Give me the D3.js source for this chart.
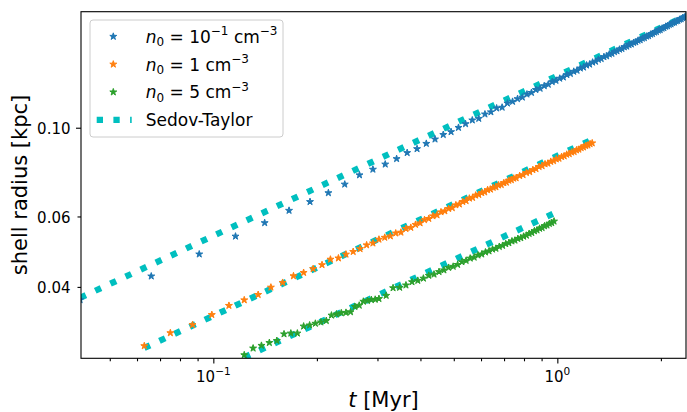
<!DOCTYPE html>
<html lang="en">
<head>
  <meta charset="UTF-8">
  <title>Shell radius vs time</title>
  <style>
    body { margin: 0; background: #fff; }
    svg text { font-family: 'DejaVu Sans', sans-serif; fill: #000; }
  </style>
</head>
<body>
  <div id="chart"></div>

  <script src="https://cdnjs.cloudflare.com/ajax/libs/d3/7.8.5/d3.min.js"></script>
  <script>
    // n0 = 0.1 cm^-3 : time [Myr] and shell radius [kpc]
    const blueT = [0.041, 0.066, 0.091, 0.116, 0.141, 0.166, 0.191, 0.216, 0.241, 0.266,
      0.291, 0.316, 0.341, 0.366, 0.391, 0.416, 0.441, 0.466, 0.491, 0.516,
      0.541, 0.566, 0.591, 0.616, 0.641, 0.666, 0.691, 0.716, 0.741, 0.766,
      0.791, 0.816, 0.841, 0.866, 0.891, 0.916, 0.941, 0.966, 0.991, 1.016,
      1.041, 1.066, 1.091, 1.116, 1.141, 1.166, 1.191, 1.216, 1.241, 1.266,
      1.291, 1.316, 1.341, 1.366, 1.391, 1.416, 1.441, 1.466, 1.491, 1.516,
      1.541, 1.566, 1.591, 1.616, 1.641, 1.666, 1.691, 1.716, 1.741, 1.766,
      1.791, 1.816, 1.841, 1.866, 1.891, 1.916, 1.941, 1.966, 1.991, 2.016,
      2.041, 2.066, 2.091, 2.116, 2.141, 2.166, 2.191, 2.216, 2.241, 2.266,
      2.291, 2.316, 2.341, 2.366];
    const blueR = [0.03714, 0.04254, 0.04829, 0.05352, 0.05783, 0.06209, 0.06530, 0.06871, 0.07220, 0.07616,
      0.07867, 0.08103, 0.08363, 0.08657, 0.08854, 0.09128, 0.09360, 0.09607, 0.09765, 0.10007,
      0.10222, 0.10444, 0.10541, 0.10810, 0.10946, 0.11191, 0.11241, 0.11513, 0.11626, 0.11808,
      0.11913, 0.12125, 0.12237, 0.12445, 0.12537, 0.12721, 0.12829, 0.13024, 0.13120, 0.13282,
      0.13373, 0.13563, 0.13650, 0.13822, 0.13905, 0.14083, 0.14162, 0.14329, 0.14405, 0.14571,
      0.14643, 0.14807, 0.14876, 0.15038, 0.15104, 0.15264, 0.15327, 0.15478, 0.15547, 0.15696,
      0.15762, 0.15910, 0.15974, 0.16120, 0.16173, 0.16318, 0.16378, 0.16522, 0.16580, 0.16722,
      0.16778, 0.16920, 0.16974, 0.17115, 0.17176, 0.17317, 0.17377, 0.17516, 0.17574, 0.17713,
      0.17770, 0.17908, 0.17964, 0.18101, 0.18155, 0.18282, 0.18345, 0.18471, 0.18522, 0.18647,
      0.18708, 0.18821, 0.18881, 0.18994];

    // n0 = 1 cm^-3
    const orangeT = [0.063, 0.075, 0.087, 0.099, 0.111, 0.123, 0.135, 0.147, 0.159, 0.171,
      0.183, 0.195, 0.207, 0.219, 0.231, 0.243, 0.255, 0.267, 0.279, 0.291,
      0.303, 0.315, 0.327, 0.339, 0.351, 0.363, 0.375, 0.387, 0.399, 0.411,
      0.423, 0.435, 0.447, 0.459, 0.471, 0.483, 0.495, 0.507, 0.519, 0.531,
      0.543, 0.555, 0.567, 0.579, 0.591, 0.603, 0.615, 0.627, 0.639, 0.651,
      0.663, 0.675, 0.687, 0.699, 0.711, 0.723, 0.735, 0.747, 0.759,
      0.777, 0.795, 0.813, 0.831, 0.849, 0.867, 0.885, 0.903, 0.921, 0.939,
      0.957, 0.975, 0.993, 1.011, 1.029, 1.047, 1.065, 1.083, 1.101, 1.119,
      1.137, 1.155, 1.173, 1.191, 1.209, 1.227, 1.245, 1.263];
    const orangeR = [0.02848, 0.03069, 0.03216, 0.03408, 0.03592, 0.03709, 0.03825, 0.03990, 0.04100, 0.04260,
      0.04342, 0.04439, 0.04541, 0.04687, 0.04720, 0.04825, 0.04899, 0.04979, 0.05090, 0.05144,
      0.05258, 0.05316, 0.05359, 0.05449, 0.05475, 0.05591, 0.05628, 0.05726, 0.05776, 0.05885,
      0.05926, 0.06014, 0.06048, 0.06155, 0.06190, 0.06274, 0.06304, 0.06408, 0.06439, 0.06532,
      0.06564, 0.06660, 0.06686, 0.06778, 0.06802, 0.06877, 0.06903, 0.06993, 0.07014, 0.07086,
      0.07106, 0.07186, 0.07203, 0.07278, 0.07299, 0.07382, 0.07405, 0.07470, 0.07488,
      0.07584, 0.07623, 0.07719, 0.07755, 0.07849, 0.07892, 0.07990, 0.08026, 0.08113, 0.08144,
      0.08229, 0.08262, 0.08347, 0.08378, 0.08462, 0.08491, 0.08575, 0.08603, 0.08684, 0.08710,
      0.08791, 0.08826, 0.08907, 0.08941, 0.09010, 0.09042, 0.09111, 0.09153];

    // n0 = 5 cm^-3
    const greenT = [0.123, 0.1305, 0.138, 0.1455, 0.153, 0.1605, 0.168, 0.1755, 0.183, 0.1905,
      0.198, 0.2055, 0.213, 0.2205, 0.228, 0.2355, 0.243, 0.2505, 0.258, 0.2655,
      0.273, 0.2805, 0.288, 0.2955, 0.303,
      0.318, 0.333, 0.348, 0.363, 0.378, 0.393, 0.408, 0.423, 0.438, 0.453,
      0.468, 0.483, 0.498, 0.513, 0.528, 0.543, 0.558, 0.573, 0.588, 0.603,
      0.618, 0.633, 0.648, 0.663, 0.678, 0.693, 0.708, 0.723, 0.738, 0.753,
      0.768, 0.783, 0.798, 0.813, 0.828, 0.843, 0.858, 0.873, 0.888, 0.903,
      0.918, 0.933, 0.948, 0.963, 0.978];
    const greenR = [0.02703, 0.02810, 0.02854, 0.02901, 0.02935, 0.03049, 0.03063, 0.03063, 0.03189, 0.03209,
      0.03241, 0.03265, 0.03293, 0.03397, 0.03419, 0.03442, 0.03451, 0.03463, 0.03570, 0.03596,
      0.03679, 0.03695, 0.03715, 0.03721, 0.03737,
      0.03806, 0.03976, 0.03986, 0.04040, 0.04116, 0.04149, 0.04202, 0.04271, 0.04301, 0.04364,
      0.04406, 0.04470, 0.04499, 0.04547, 0.04619, 0.04655, 0.04716, 0.04742, 0.04800, 0.04829,
      0.04885, 0.04915, 0.04967, 0.04990, 0.05043, 0.05073, 0.05125, 0.05151, 0.05205, 0.05229,
      0.05280, 0.05302, 0.05349, 0.05380, 0.05435, 0.05464, 0.05519, 0.05545, 0.05599, 0.05623,
      0.05680, 0.05704, 0.05757, 0.05783, 0.05836];

    // Sedov-Taylor lines (straight in log-log), end points
    const sedovBlueT = [0.041, 2.366];
    const sedovBlueR = [0.03757, 0.19027];
    const sedovOrangeT = [0.063, 1.263];
    const sedovOrangeR = [0.02815, 0.09340];
    const sedovGreenT = [0.123, 0.978];
    const sedovGreenR = [0.02666, 0.06111];

    // ticks and labels
    const xMajorTicks = [0.1, 1];
    const xTickExponents = ['\u22121', '0'];
    const xMinorTicks = [0.05, 0.06, 0.07, 0.08, 0.09, 0.2, 0.3, 0.4, 0.5, 0.6, 0.7, 0.8, 0.9, 2];
    const yMajorTicks = [0.1];
    const yMinorTicks = [0.04, 0.06];
    const legendDensity = ['10', '1', '5'];
    const legendDensityExp = ['\u22121', '', ''];

    const seriesColors = ['#1f77b4', '#ff7f0e', '#2ca02c'];
    const sedovColor = '#00bfbf';

    let width = 687, height = 412;
    let plot = { left: 81, right: 686, top: 11.7, bottom: 358.3 };

    let xScale = d3.scaleLog().domain([0.04124, 2.366]).range([plot.left, plot.right]);
    let yScale = d3.scaleLog().domain([0.02652, 0.195]).range([plot.bottom, plot.top]);

    let svg = d3.select('#chart').append('svg')
      .attr('width', width)
      .attr('height', height);

    svg.append('defs').append('clipPath').attr('id', 'plot-clip')
      .append('rect')
      .attr('x', plot.left).attr('y', plot.top)
      .attr('width', plot.right - plot.left)
      .attr('height', plot.bottom - plot.top);

    let plotArea = svg.append('g').attr('clip-path', 'url(#plot-clip)');

    // Sedov-Taylor dotted lines go under the data
    let line = d3.line().x(d => xScale(d[0])).y(d => yScale(d[1]));
    [[sedovBlueT, sedovBlueR], [sedovOrangeT, sedovOrangeR], [sedovGreenT, sedovGreenR]].forEach(s => {
      plotArea.append('path')
        .datum(d3.zip(s[0], s[1]))
        .attr('d', line)
        .attr('fill', 'none')
        .attr('stroke', sedovColor)
        .attr('stroke-width', 6.3)
        .attr('stroke-dasharray', '6.3 10.4');
    });

    // Star markers for each density
    let star = d3.symbol(d3.symbolStar, 15);
    [[blueT, blueR], [orangeT, orangeR], [greenT, greenR]].forEach((s, i) => {
      plotArea.append('g')
        .selectAll('path')
        .data(d3.zip(s[0], s[1]))
        .join('path')
        .attr('transform', d => `translate(${xScale(d[0])},${yScale(d[1])})`)
        .attr('d', star)
        .attr('fill', seriesColors[i])
        .attr('stroke', seriesColors[i])
        .attr('stroke-width', 1)
        .attr('stroke-linejoin', 'round');
    });

    // Axes
    function styleAxis(g) {
      g.select('.domain').remove();
      g.selectAll('line').attr('stroke', '#000').attr('stroke-width', 1.1);
      g.attr('font-family', 'DejaVu Sans').attr('font-size', 15);
    }

    svg.append('g')
      .attr('transform', `translate(0, ${plot.bottom})`)
      .call(d3.axisBottom(xScale).tickValues(xMinorTicks).tickSize(3).tickFormat(''))
      .call(styleAxis);
    svg.append('g')
      .attr('transform', `translate(0, ${plot.bottom})`)
      .call(d3.axisBottom(xScale).tickValues(xMajorTicks).tickSize(5.25).tickFormat(''))
      .call(styleAxis);

    // 10^x labels with superscripts
    svg.append('g').selectAll('text')
      .data(xMajorTicks)
      .join('text')
      .attr('x', d => xScale(d))
      .attr('y', 382)
      .attr('text-anchor', 'middle')
      .attr('font-size', 15)
      .each(function (d, i) {
        let t = d3.select(this);
        t.append('tspan').text('10');
        t.append('tspan').attr('dy', -7).attr('font-size', 10.5).text(xTickExponents[i]);
      });

    svg.append('g')
      .attr('transform', `translate(${plot.left}, 0)`)
      .call(d3.axisLeft(yScale).tickValues(yMajorTicks).tickSize(5).tickPadding(5.5).tickFormat(d3.format('.2f')))
      .call(styleAxis)
      .selectAll('text').attr('dy', '0.38em');
    svg.append('g')
      .attr('transform', `translate(${plot.left}, 0)`)
      .call(d3.axisLeft(yScale).tickValues(yMinorTicks).tickSize(3.5).tickPadding(7).tickFormat(d3.format('.2f')))
      .call(styleAxis)
      .selectAll('text').attr('dy', '0.38em');

    // Frame
    svg.append('rect')
      .attr('x', plot.left).attr('y', plot.top)
      .attr('width', plot.right - plot.left)
      .attr('height', plot.bottom - plot.top)
      .attr('fill', 'none')
      .attr('stroke', '#000')
      .attr('stroke-width', 1.1);

    // Axis labels
    let xLabel = svg.append('text')
      .attr('x', (plot.left + plot.right) / 2)
      .attr('y', 407)
      .attr('text-anchor', 'middle')
      .attr('font-size', 21);
    xLabel.append('tspan').attr('font-style', 'italic').text('t');
    xLabel.append('tspan').text(' [Myr]');

    svg.append('text')
      .attr('transform', `translate(27, ${(plot.top + plot.bottom) / 2}) rotate(-90)`)
      .attr('text-anchor', 'middle')
      .attr('font-size', 21)
      .text('shell radius [kpc]');

    // Legend
    let legend = svg.append('g');
    legend.append('rect')
      .attr('x', 90).attr('y', 20)
      .attr('width', 193).attr('height', 117)
      .attr('rx', 3)
      .attr('fill', '#fff').attr('fill-opacity', 0.8)
      .attr('stroke', '#cccccc').attr('stroke-width', 1);

    let rowY = [36.5, 64.3, 92.1, 119.9];

    legendDensity.forEach((dens, i) => {
      legend.append('path')
        .attr('transform', `translate(113.3, ${rowY[i]})`)
        .attr('d', star)
        .attr('fill', seriesColors[i])
        .attr('stroke', seriesColors[i])
        .attr('stroke-width', 1)
        .attr('stroke-linejoin', 'round');

      let txt = legend.append('text')
        .attr('x', 145.7)
        .attr('y', rowY[i] + 6.2)
        .attr('font-size', 17);
      txt.append('tspan').attr('font-style', 'italic').text('n');
      txt.append('tspan').attr('font-size', 12).attr('dy', 3.5).text('0');
      txt.append('tspan').attr('dy', -3.5).text(' = ' + dens);
      if (legendDensityExp[i]) {
        txt.append('tspan').attr('font-size', 12).attr('dy', -7.5).text(legendDensityExp[i]);
        txt.append('tspan').attr('dy', 7.5).text(' cm');
      } else {
        txt.append('tspan').text(' cm');
      }
      txt.append('tspan').attr('font-size', 12).attr('dy', -7.5).text('\u22123');
    });

    legend.append('path')
      .attr('d', `M96.7,${rowY[3]}H131.7`)
      .attr('stroke', sedovColor)
      .attr('stroke-width', 6.3)
      .attr('stroke-dasharray', '6.3 10.4');
    legend.append('text')
      .attr('x', 145.7)
      .attr('y', rowY[3] + 6.2)
      .attr('font-size', 17)
      .text('Sedov-Taylor');
  </script>
</body>
</html>
